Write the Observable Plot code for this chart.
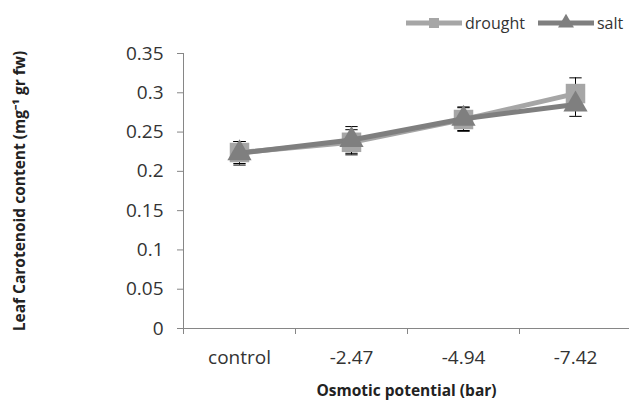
<!DOCTYPE html>
<html><head><meta charset="utf-8">
<script src="https://cdn.jsdelivr.net/npm/d3@7"></script>
<script src="https://cdn.jsdelivr.net/npm/@observablehq/plot@0.6"></script>
<style>
body{margin:0;background:#fff;}
#wrap{position:relative;width:629px;height:400px;overflow:hidden;font-family:"Open Sans",sans-serif;}
#legend{position:absolute;left:405px;top:12px;display:flex;align-items:center;font-size:16px;color:#333;font-family:"Open Sans",sans-serif;}
#legend .item{display:flex;align-items:center;margin-right:12px;}
#legend svg{margin-right:2px;}
</style></head><body><div id="wrap"></div>
<script>
const categories = ["control", "-2.47", "-4.94", "-7.42"];
const seriesNames = ["drought", "salt"];
const drought = [0.224, 0.237, 0.266, 0.299];
const droughtErr = [0.014, 0.016, 0.015, 0.020];
const salt = [0.223, 0.240, 0.267, 0.285];
const saltErr = [0.015, 0.017, 0.015, 0.015];
const yTicks = [0, 0.05, 0.1, 0.15, 0.2, 0.25, 0.3, 0.35];

const colors = ["#a6a6a6", "#7f7f7f"];
const symbols = ["square", "triangle"];
const values = [drought, salt];
const errs = [droughtErr, saltErr];

const rows = seriesNames.flatMap((s, k) => categories.map((c, i) => ({series: s, i, cat: c, v: values[k][i], e: errs[k][i]})));
const bySeries = s => rows.filter(d => d.series === s);
const capHalf = 0.055;

const marks = [
  Plot.ruleY([0], {stroke: "#868686"}),
  Plot.ruleX([-0.5], {y1: 0, y2: 0.35, stroke: "#868686"}),
  Plot.axisY({ticks: yTicks, tickSize: 6, tickPadding: 14, stroke: "#868686", fill: "#333",
    tickFormat: d => String(+d.toFixed(2)),
    label: "Leaf Carotenoid content (mg\u207B\u00B9 gr fw)", labelAnchor: "center", labelOffset: 170, labelArrow: "none"}),
  Plot.axisX({ticks: [-0.5, 0.5, 1.5, 2.5, 3.5], tickSize: 6, tickFormat: () => "", stroke: "#868686", label: null}),
  Plot.axisX({ticks: [0, 1, 2, 3], tickSize: 0, tickPadding: 22, fill: "#333",
    tickFormat: i => categories[i],
    label: "Osmotic potential (bar)", labelAnchor: "center", labelOffset: 67, labelArrow: "none"}),
  // error bars
  Plot.ruleX(rows, {x: "i", y1: d => d.v - d.e, y2: d => d.v + d.e, stroke: "#000", strokeWidth: 1}),
  Plot.link(rows, {x1: d => d.i - capHalf, x2: d => d.i + capHalf, y1: d => d.v + d.e, y2: d => d.v + d.e, stroke: "#000", strokeWidth: 1}),
  Plot.link(rows, {x1: d => d.i - capHalf, x2: d => d.i + capHalf, y1: d => d.v - d.e, y2: d => d.v - d.e, stroke: "#000", strokeWidth: 1})
];
seriesNames.forEach((s, k) => {
  marks.push(Plot.line(bySeries(s), {x: "i", y: "v", stroke: colors[k], strokeWidth: 5}));
  marks.push(Plot.dot(bySeries(s), {x: "i", y: "v", symbol: () => symbols[k], fill: colors[k], r: k === 0 ? 11 : 9}));
});

const chart = Plot.plot({
  width: 629,
  height: 400,
  marginTop: 53,
  marginBottom: 72,
  marginLeft: 183,
  marginRight: 0,
  x: {domain: [-0.5, 3.5], range: [183, 631]},
  y: {domain: [0, 0.35]},
  symbol: {type: "identity"},
  style: {background: "transparent", overflow: "visible", fontFamily: "'Open Sans', sans-serif"},
  marks
});
const wrap = document.getElementById("wrap");
wrap.appendChild(chart);

// typography of axis texts
d3.select(chart).selectAll("g[aria-label]").each(function() {
  const lab = this.getAttribute("aria-label");
  const g = d3.select(this);
  if (/tick label/.test(lab)) {
    g.attr("font-size", null).style("font-size", "19px");
    g.selectAll("text").style("font-size", "19px").style("fill", "#333");
  } else if (/axis label/.test(lab)) {
    g.style("font-size", "15.5px").style("font-weight", "bold");
    g.selectAll("text").style("font-size", "15.5px").style("font-weight", "bold").style("fill", "#222");
  }
});

const legend = document.createElement("div");
legend.id = "legend";
seriesNames.forEach((s, k) => {
  const item = document.createElement("span");
  item.className = "item";
  const sym = k === 0 ? d3.symbolSquare : d3.symbolTriangle;
  const path = d3.symbol(sym, k === 0 ? 100 : 110)();
  item.innerHTML = `<svg width="58" height="20"><line x1="1" x2="57" y1="10" y2="10" stroke="${colors[k]}" stroke-width="5"/><path transform="translate(29,10)" d="${path}" fill="${colors[k]}"/></svg><span>${s}</span>`;
  legend.appendChild(item);
});
wrap.appendChild(legend);
</script></body></html>
